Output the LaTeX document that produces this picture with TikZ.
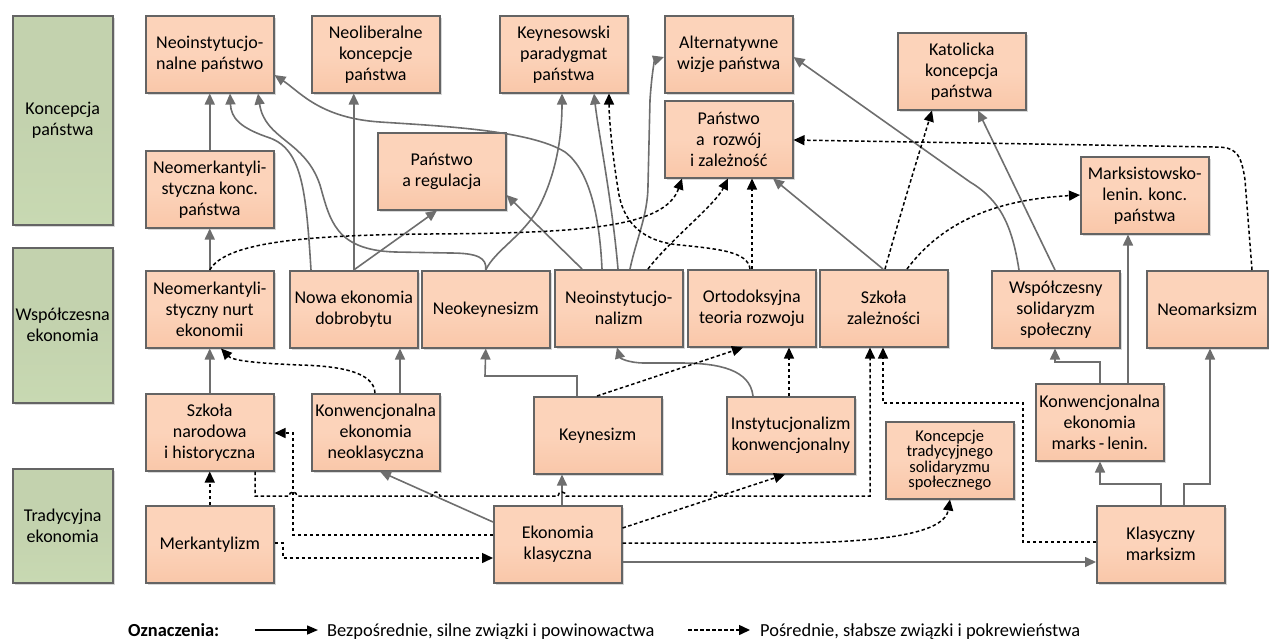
\documentclass[tikz,border=0pt]{standalone}
\usepackage{fontspec}
\setmainfont{Carlito}
\usetikzlibrary{arrows.meta,shadows}
\definecolor{boxtop}{HTML}{FCD3BA}
\definecolor{boxbot}{HTML}{F9C7A9}
\definecolor{grtop}{HTML}{C3D2AE}
\definecolor{grbot}{HTML}{C8D9B2}
\definecolor{edgec}{HTML}{646464}
\definecolor{lnk}{HTML}{6E6E6E}
\tikzset{
  box/.style={draw=edgec, line width=1.5pt, top color=boxtop, bottom color=boxbot, middle color=boxtop,
    minimum width=128pt, minimum height=77pt, inner sep=1pt, align=center, anchor=north west,
    font=\fontsize{18}{21}\selectfont,
    drop shadow={shadow xshift=2.5pt, shadow yshift=-2.5pt, fill=black!30, opacity=0.5}},
  gbox/.style={box, top color=grtop, bottom color=grbot, middle color=grtop, minimum width=100pt},
  sarr/.style={draw=lnk, line width=1.6pt, -{Triangle[length=11pt,width=10pt]}},
  darr/.style={draw=black, line width=1.5pt, dash pattern=on 3.5pt off 2.5pt, -{Triangle[length=11pt,width=10pt]}},
  legtxt/.style={anchor=base west, inner sep=0pt, font=\fontsize{18.4}{21}\selectfont},
}
\begin{document}
\begin{tikzpicture}[x=1pt,y=-1pt]
\useasboundingbox (0,0) rectangle (1269,641);
% green level boxes
\node[gbox, minimum height=209pt] (kp) at (12,15) {Koncepcja\\państwa};
\node[gbox, minimum height=155pt] (we) at (12,247) {Współczesna\\ekonomia};
\node[gbox, minimum height=114pt] (te) at (12,468) {Tradycyjna\\ekonomia};
% top level
\node[box] (nip) at (145,15) {Neoinstytucjo-\\nalne państwo};
\node[box] (nlk) at (311,15) {Neoliberalne\\koncepcje\\państwa};
\node[box] (kpp) at (499,15) {Keynesowski\\paradygmat\\państwa};
\node[box] (awp) at (664,15) {Alternatywne\\wizje państwa};
\node[box] (prz) at (664,100) {Państwo\\a\ \ rozwój\\i zależność};
\node[box] (kkp) at (897,32) {Katolicka\\koncepcja\\państwa};
\node[box] (mlk) at (1080,156) {Marksistowsko-\\lenin. konc.\\państwa};
\node[box] (par) at (377,132) {Państwo\\a regulacja};
\node[box] (nmk) at (145,150) {Neomerkantyli-\\styczna konc.\\państwa};
% middle level
\node[box] (nmn) at (145,270) {Neomerkantyli-\\styczny nurt\\ekonomii};
\node[box] (ned) at (289,270) {Nowa ekonomia\\dobrobytu};
\node[box] (nk) at (421,270) {Neokeynesizm};
\node[box] (ni) at (554,269) {Neoinstytucjo-\\nalizm};
\node[box] (otr) at (687,269) {Ortodoksyjna\\teoria rozwoju};
\node[box] (sz) at (819,269) {Szkoła\\zależności};
\node[box] (wss) at (991,270) {Współczesny\\solidaryzm\\społeczny};
\node[box, minimum width=121pt] (nm) at (1146,270) {Neomarksizm};
% lower level
\node[box] (snh) at (145,393) {Szkoła\\narodowa\\i historyczna};
\node[box] (ken) at (311,393) {Konwencjonalna\\ekonomia\\neoklasyczna};
\node[box] (key) at (533,396) {Keynesizm};
\node[box] (ik) at (726,396) {Instytucjonalizm\\konwencjonalny};
\node[box, font=\fontsize{16.5}{15.5}\selectfont] (kts) at (885,421) {Koncepcje\\tradycyjnego\\solidaryzmu\\społecznego};
\node[box] (kml) at (1035,383) {Konwencjonalna\\ekonomia\\marks\,-\,lenin.};
% bottom level
\node[box] (mer) at (145,505) {Merkantylizm};
\node[box] (ekl) at (493,505) {Ekonomia\\klasyczna};
\node[box] (km) at (1096,505) {Klasyczny\\marksizm};

% ---------- solid connectors ----------
\draw[sarr] (nmk.north) -- (nip.south);
\draw[sarr] (nmn.north) -- (nmk.south);
\draw[sarr] (snh.north) -- (nmn.south);
\draw[sarr] (ned.north) -- (nlk.south -| ned.north);
\draw[sarr] (ned.north) -- (par.south -| 437,0);
\draw[sarr] (ned.north -| 311,0) .. controls (306,190) and (302,150) .. (270,138) .. controls (240,128) and (231,118) .. (nip.south -| 230,0);
\draw[sarr] (nk.north) .. controls (487,258) and (478,253) .. (450,253) -- (395,252) .. controls (335,250) and (330,220) .. (320,185) .. controls (305,140) and (265,140) .. (nip.south -| 258,0);
\draw[sarr] (nk.north) .. controls (495,250) and (525,235) .. (540,205) .. controls (555,175) and (562,140) .. (kpp.south -| 562,0);
\draw[sarr] (ni.north -| 602,0) .. controls (600,225) and (592,172) .. (565,152) .. controls (530,130) and (440,126) .. (380,122) .. controls (320,118) and (300,92) .. (nip.east |- 0,75);
\draw[sarr] (ni.north -| 618,0) .. controls (612,200) and (598,130) .. (kpp.south -| 594,0);
\draw[sarr] (ni.north -| 630,0) .. controls (636,240) and (648,215) .. (648,185) -- (650,100) .. controls (652,70) and (655,60) .. (awp.west |- 0,57);
\draw[sarr] (ni.north -| 582,0) -- (par.east |- 0,195);
\draw[sarr] (sz.north -| 883,0) -- (prz.south -| 773,0);
\draw[sarr] (wss.north -| 1019,0) .. controls (1012,225) and (1000,200) .. (970,182) -- (awp.east |- 0,57);
\draw[sarr] (wss.north -| 1055,0) -- (kkp.south -| 978,0);
\draw[sarr] (kml.north -| 1128,0) -- (mlk.south -| 1128,0);
\draw[sarr] (kml.north -| 1100,0) -- (1100,362) -- (1055,362) -- (wss.south -| 1055,0);
\draw[sarr] (km.north -| 1161,0) -- (1161,484) -- (1100,484) -- (kml.south -| 1100,0);
\draw[sarr] (km.north -| 1184,0) -- (1184,484) -- (1210,484) -- (nm.south -| 1210,0);
\draw[sarr] (ekl.east |- 0,562) -- (km.west |- 0,562);
\draw[sarr] (ken.north -| 400,0) -- (ned.south -| 400,0);
\draw[sarr] (ekl.west |- 0,522) -- (ken.south -| 380,0);
\draw[sarr] (ekl.north -| 562,0) -- (key.south -| 562,0);
\draw[sarr] (key.north -| 577,0) -- (577,376) -- (485,376) -- (nk.south);
\draw[sarr] (ik.north -| 753,0) .. controls (750,370) and (720,363) .. (680,363) -- (645,363) .. controls (628,363) and (620,358) .. (ni.south -| 617,0);

% ---------- dashed connectors ----------
\draw[darr] (otr.north -| 750,0) .. controls (748,252) and (720,249) .. (680,245) .. controls (645,242) and (625,225) .. (619,195) .. controls (613,160) and (609,120) .. (kpp.south -| 609,0);
\draw[darr] (otr.north -| 752,0) -- (prz.south -| 752,0);
\draw[darr] (nmn.north) .. controls (225,243) and (300,235) .. (430,234) .. controls (580,233) and (665,228) .. (prz.south -| 682,0);
\draw[darr] (ni.north -| 648,0) .. controls (670,240) and (715,205) .. (prz.south -| 728,0);
\draw[darr] (sz.north -| 885,0) .. controls (900,215) and (920,150) .. (kkp.south -| 932,0);
\draw[darr] (sz.north -| 907,0) .. controls (940,225) and (990,200) .. (mlk.west |- 0,195);
\draw[darr] (nm.north -| 1252,0) -- (1245,180) .. controls (1241,152) and (1235,147) .. (1215,147) -- (prz.east |- 0,140);
\draw[darr] (snh.south -| 255,0) -- (255,496) -- (289,496) arc[start angle=180, end angle=360, radius=4]
  -- (432,496) arc[start angle=180, end angle=360, radius=4]
  -- (558,496) arc[start angle=180, end angle=360, radius=4]
  -- (711,496) arc[start angle=180, end angle=360, radius=4]
  -- (870,496) -- (sz.south -| 870,0);
\draw[darr] (ekl.west |- 0,535) -- (293,535) -- (293,433) -- (snh.east |- 0,433);
\draw[darr] (mer.east |- 0,543) -- (283,543) -- (283,558) -- (ekl.west |- 0,558);
\draw[darr] (mer.north) -- (snh.south);
\draw[darr] (ken.north -| 375,0) .. controls (374,372) and (340,366) .. (300,365) .. controls (250,363) and (232,360) .. (nmn.south -| 221,0);
\draw[darr] (key.north -| 597,0) -- (otr.south -| 743,0);
\draw[darr] (ik.north -| 789,0) -- (otr.south -| 789,0);
\draw[darr] (ekl.east |- 0,528) -- (ik.south -| 785,0);
\draw[darr] (ekl.east |- 0,543) -- (800,543) .. controls (900,541) and (945,530) .. (kts.south -| 950,0);
\draw[darr] (km.west |- 0,542) -- (1023,542) -- (1023,403) -- (883,403) -- (sz.south -| 883,0);

% ---------- legend ----------
\node[legtxt, font=\fontsize{18.4}{21}\selectfont\bfseries] (lg0) at (128,636) {Oznaczenia:};
\coordinate (ls1) at (255,630);
\coordinate (ls2) at (318,630);
\draw[line width=1.5pt, black, -{Triangle[length=11pt,width=9pt]}] (ls1) -- (ls2);
\node[legtxt] (lg1) at (327,636) {Bezpośrednie, silne związki i powinowactwa};
\coordinate (ld1) at (688,630);
\coordinate (ld2) at (750,630);
\draw[darr] (ld1) -- (ld2);
\node[legtxt] (lg2) at (760,636) {Pośrednie, słabsze związki i pokrewieństwa};
\end{tikzpicture}
\end{document}
